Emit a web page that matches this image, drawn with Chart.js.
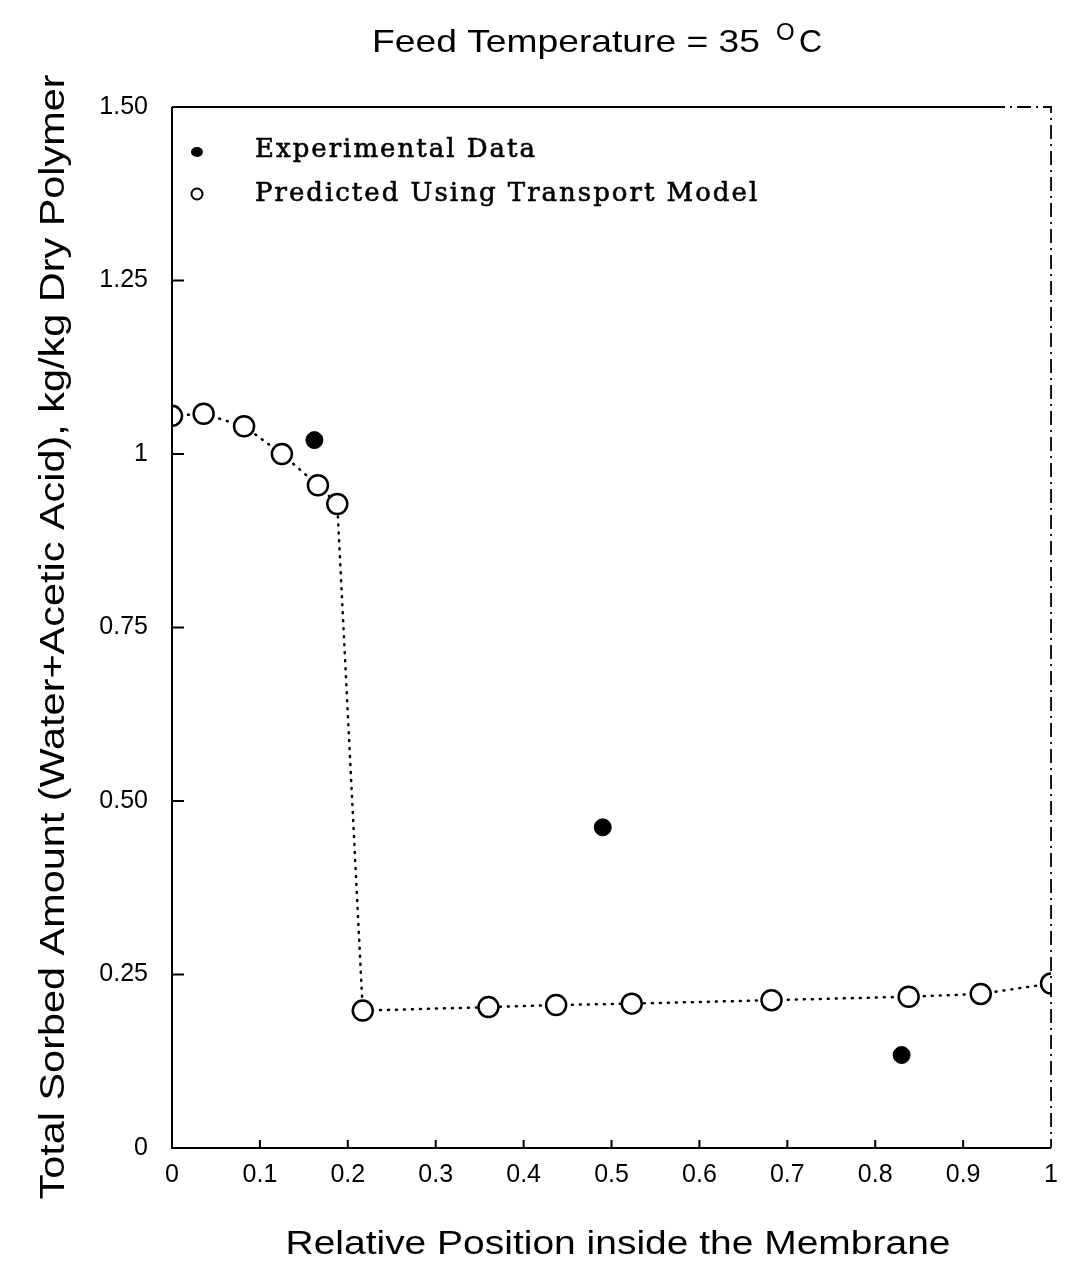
<!DOCTYPE html>
<html>
<head>
<meta charset="utf-8">
<script src="https://cdn.jsdelivr.net/npm/chart.js@4.4.1/dist/chart.umd.min.js"></script>
<style>
  html, body { margin: 0; padding: 0; background: #fff; }
  #wrap { width: 1070px; height: 1283px; position: relative; }
</style>
</head>
<body>
<div id="wrap"><canvas id="sorcion"></canvas></div>
<script>
// datos del modelo de transporte (círculos abiertos)
const predX = [0, 0.036, 0.082, 0.125, 0.166, 0.188, 0.217, 0.36, 0.437, 0.523, 0.682, 0.838, 0.92, 1.0];
const predY = [1.055, 1.058, 1.04, 1.0, 0.955, 0.928, 0.198, 0.203, 0.206, 0.208, 0.213, 0.218, 0.222, 0.237];

// datos experimentales (círculos rellenos)
const expX = [0.162, 0.49, 0.83];
const expY = [1.02, 0.462, 0.134];

const xTickLabels = ['0', '0.1', '0.2', '0.3', '0.4', '0.5', '0.6', '0.7', '0.8', '0.9', '1'];
const yTickLabels = ['0', '0.25', '0.50', '0.75', '1', '1.25', '1.50'];

const legendLabels = ['Experimental Data', 'Predicted Using Transport Model'];
const titulo = 'Feed Temperature = 35';
const tituloX = 'Relative Position inside the Membrane';
const tituloY = 'Total Sorbed Amount (Water+Acetic Acid), kg/kg Dry Polymer';

const sansFont = "'Liberation Sans', Arial, sans-serif";
const serifFont = "'DejaVu Serif', serif";

// texto estirado en horizontal hasta un ancho dado
function textoAncho(ctx, txt, cx, cy, ancho) {
  const w = ctx.measureText(txt).width;
  ctx.save();
  ctx.translate(cx, cy);
  ctx.scale(ancho / w, 1);
  ctx.textAlign = 'center';
  ctx.fillText(txt, 0, 0);
  ctx.restore();
}

// marco, marcas interiores, leyenda y títulos
const decoracion = {
  id: 'decoracion',
  afterDraw(chart) {
    const ctx = chart.ctx;
    const a = chart.chartArea;
    const xs = chart.scales.x, ys = chart.scales.y;
    ctx.save();
    ctx.strokeStyle = '#000';
    ctx.fillStyle = '#000';
    ctx.lineWidth = 2;
    ctx.beginPath();
    ctx.moveTo(a.left, a.top);
    ctx.lineTo(a.left, a.bottom);
    ctx.lineTo(a.right, a.bottom);
    ctx.stroke();
    ctx.lineWidth = 1.8;
    ctx.beginPath();
    ctx.moveTo(a.left, a.top);
    ctx.lineTo(a.right - 60, a.top);
    ctx.stroke();
    ctx.setLineDash([14, 5, 2, 5]);
    ctx.beginPath();
    ctx.moveTo(a.right - 60, a.top);
    ctx.lineTo(a.right, a.top);
    ctx.lineTo(a.right, a.bottom);
    ctx.stroke();
    ctx.setLineDash([]);

    // marcas hacia dentro
    ctx.lineWidth = 2;
    xs.ticks.forEach(t => {
      if (t.value <= 0 || t.value >= 1) return;
      const px = xs.getPixelForValue(t.value);
      ctx.beginPath();
      ctx.moveTo(px, a.bottom);
      ctx.lineTo(px, a.bottom - 8);
      ctx.stroke();
    });
    ys.ticks.forEach(t => {
      if (t.value <= 0 || t.value >= 1.5) return;
      const py = ys.getPixelForValue(t.value);
      ctx.beginPath();
      ctx.moveTo(a.left, py);
      ctx.lineTo(a.left + 12, py);
      ctx.stroke();
    });

    // leyenda
    ctx.beginPath();
    ctx.ellipse(197, 152, 6, 5, 0, 0, Math.PI * 2);
    ctx.fill();
    ctx.lineWidth = 2;
    ctx.beginPath();
    ctx.arc(197, 194, 5.5, 0, Math.PI * 2);
    ctx.stroke();
    ctx.font = '26px ' + serifFont;
    ctx.letterSpacing = '2px';
    ctx.textAlign = 'left';
    ctx.textBaseline = 'alphabetic';
    ctx.lineWidth = 0.6;
    legendLabels.forEach((txt, i) => {
      const y = i === 0 ? 157 : 201;
      ctx.fillText(txt, 255, y);
      ctx.strokeText(txt, 255, y);
    });
    ctx.letterSpacing = '0px';

    // título superior con superíndice
    ctx.font = '32px ' + sansFont;
    textoAncho(ctx, titulo, 566, 52, 388);
    ctx.font = '24px ' + sansFont;
    ctx.fillText('O', 776, 40);
    ctx.font = '32px ' + sansFont;
    ctx.fillText('C', 799, 52);

    // título eje x
    ctx.font = '33px ' + sansFont;
    textoAncho(ctx, tituloX, 618, 1254, 665);

    // título eje y
    ctx.translate(64, 637);
    ctx.rotate(-Math.PI / 2);
    ctx.font = '35px ' + sansFont;
    textoAncho(ctx, tituloY, 0, 0, 1125);
    ctx.restore();
  }
};

new Chart(document.getElementById('sorcion').getContext('2d'), {
  type: 'scatter',
  data: {
    datasets: [{
      label: legendLabels[1],
      data: predX.map((x, i) => ({ x: x, y: predY[i] })),
      showLine: true,
      borderColor: '#000',
      borderWidth: 2.5,
      borderDash: [1, 7],
      borderCapStyle: 'round',
      pointRadius: 10,
      pointBorderWidth: 2.5,
      pointBackgroundColor: '#fff',
      pointBorderColor: '#000'
    }, {
      label: legendLabels[0],
      data: expX.map((x, i) => ({ x: x, y: expY[i] })),
      pointRadius: 8.5,
      pointBackgroundColor: '#000',
      pointBorderColor: '#000'
    }]
  },
  options: {
    responsive: true,
    maintainAspectRatio: false,
    animation: false,
    layout: { padding: { top: 107, right: 3, left: 0, bottom: 0 } },
    plugins: {
      legend: { display: false },
      tooltip: { enabled: false }
    },
    scales: {
      x: {
        type: 'linear', min: 0, max: 1,
        afterFit: s => { s.height = 135; },
        border: { display: false },
        grid: { display: false, drawTicks: false },
        ticks: {
          stepSize: 0.1, padding: 12, color: '#000', maxRotation: 0,
          font: { family: sansFont, size: 25 },
          callback: (v) => xTickLabels[Math.round(v * 10)]
        }
      },
      y: {
        type: 'linear', min: 0, max: 1.5,
        afterFit: s => { s.width = 172; },
        border: { display: false },
        grid: { display: false, drawTicks: false },
        ticks: {
          stepSize: 0.25, padding: 24, color: '#000',
          font: { family: sansFont, size: 25 },
          callback: (v) => yTickLabels[Math.round(v * 4)]
        }
      }
    }
  },
  plugins: [decoracion]
});
</script>
</body>
</html>
